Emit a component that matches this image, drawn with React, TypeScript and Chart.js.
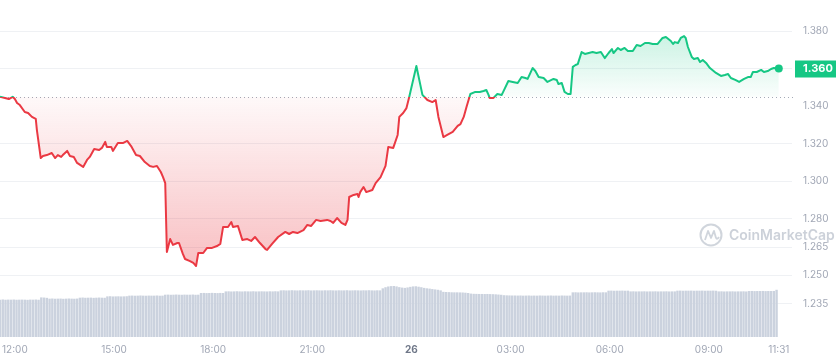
import React, { useEffect, useRef } from "react";
import { Chart, registerables } from "chart.js";

Chart.register(...registerables);

// Price series: minutes after 12:00 (25th) and price in USD
const TIME_MIN = [
  -27, -18, -11, -4, 0, 4, 9, 18, 24, 31, 38, 40, 47, 51, 58, 67, 73, 78, 84, 87,
  95, 100, 107, 113, 124, 131, 136, 144, 153, 158, 164, 167, 175, 178, 187, 196, 204, 211, 215, 220,
  227, 236, 245, 251, 258, 265, 269, 273, 276, 282, 287, 295, 298, 305, 309, 318, 324, 329, 333, 342,
  349, 358, 367, 373, 378, 387, 393, 396, 405, 413, 422, 429, 436, 445, 455, 458, 467, 478, 491, 498,
  505, 513, 524, 531, 538, 547, 555, 567, 573, 578, 585, 593, 600, 604, 607, 615, 622, 624, 627, 633,
  638, 649, 655, 664, 673, 678, 687, 695, 698, 705, 711, 716, 729, 740, 749, 758, 764, 769, 778, 785,
  795, 804, 809, 815, 820, 827, 836, 844, 851, 856, 860, 862, 869, 876, 884, 889, 896, 904, 913, 920,
  927, 931, 940, 945, 951, 960, 967, 978, 984, 987, 993, 998, 1004, 1009, 1013, 1018, 1022, 1029, 1035, 1042,
  1049, 1056, 1064, 1071, 1078, 1084, 1087, 1095, 1100, 1107, 1113, 1122, 1129, 1136, 1144, 1151, 1158, 1167, 1176, 1182,
  1191, 1195, 1198, 1204, 1209, 1215, 1218, 1222, 1229, 1233, 1240, 1244, 1249, 1255, 1262, 1273, 1282, 1289, 1295, 1300,
  1309, 1315, 1324, 1331, 1336, 1340, 1347, 1355, 1360, 1367, 1373, 1378, 1387,
];

const PRICE = [
  1.3450, 1.3444, 1.3438, 1.3450, 1.3438, 1.3417, 1.3406, 1.3369, 1.3364, 1.3343, 1.3332, 1.3273, 1.3124, 1.3135, 1.3140, 1.3151, 1.3124, 1.3140, 1.3130, 1.3140,
  1.3162, 1.3135, 1.3130, 1.3098, 1.3077, 1.3114, 1.3130, 1.3172, 1.3167, 1.3178, 1.3210, 1.3183, 1.3183, 1.3162, 1.3204, 1.3204, 1.3215, 1.3188, 1.3167, 1.3140,
  1.3135, 1.3103, 1.3082, 1.3077, 1.3082, 1.3050, 1.3023, 1.2991, 1.2624, 1.2693, 1.2662, 1.2672, 1.2672, 1.2614, 1.2587, 1.2576, 1.2566, 1.2550, 1.2619, 1.2619,
  1.2646, 1.2646, 1.2656, 1.2667, 1.2757, 1.2757, 1.2784, 1.2757, 1.2763, 1.2688, 1.2693, 1.2683, 1.2704, 1.2672, 1.2640, 1.2635, 1.2667, 1.2704, 1.2731, 1.2720,
  1.2731, 1.2725, 1.2741, 1.2768, 1.2763, 1.2795, 1.2789, 1.2795, 1.2789, 1.2779, 1.2805, 1.2779, 1.2768, 1.2795, 1.2917, 1.2928, 1.2933, 1.2917, 1.2943, 1.2970,
  1.2943, 1.2954, 1.2991, 1.3023, 1.3082, 1.3183, 1.3178, 1.3247, 1.3343, 1.3364, 1.3390, 1.3449, 1.3614, 1.3460, 1.3433, 1.3422, 1.3433, 1.3343, 1.3236, 1.3247,
  1.3263, 1.3295, 1.3305, 1.3343, 1.3396, 1.3465, 1.3476, 1.3476, 1.3481, 1.3486, 1.3460, 1.3444, 1.3444, 1.3465, 1.3460, 1.3491, 1.3534, 1.3529, 1.3523, 1.3555,
  1.3550, 1.3545, 1.3603, 1.3587, 1.3555, 1.3550, 1.3529, 1.3545, 1.3539, 1.3518, 1.3523, 1.3476, 1.3465, 1.3465, 1.3609, 1.3619, 1.3624, 1.3688, 1.3678, 1.3683,
  1.3688, 1.3683, 1.3688, 1.3656, 1.3683, 1.3704, 1.3683, 1.3710, 1.3699, 1.3710, 1.3694, 1.3694, 1.3726, 1.3720, 1.3736, 1.3736, 1.3731, 1.3731, 1.3763, 1.3768,
  1.3747, 1.3731, 1.3741, 1.3736, 1.3763, 1.3773, 1.3763, 1.3715, 1.3662, 1.3651, 1.3656, 1.3635, 1.3646, 1.3630, 1.3603, 1.3577, 1.3561, 1.3566, 1.3571, 1.3550,
  1.3539, 1.3529, 1.3545, 1.3555, 1.3555, 1.3582, 1.3582, 1.3593, 1.3582, 1.3587, 1.3598, 1.3603, 1.3600,
];

// Volume bars (5-minute buckets, arbitrary units in millions)
const VOLUME_START_MIN = -27;
const VOLUME_STEP_MIN = 5;
const VOLUME = [
  50.5, 50.8, 50.4, 50.6, 50.5, 50.7, 50.4, 50.5, 50.6, 50.5, 50.3, 50.6, 50.5, 50.7, 50.4,
  53.6, 53.4, 53.0,
  51.9, 52.1, 51.8, 51.9, 52.0, 51.7, 51.9, 52.1, 51.9, 51.8, 52.0,
  53.2, 53.4, 53.1, 53.2, 53.3, 53.0, 53.2, 53.4, 53.2, 53.1,
  55.0, 55.2, 54.9, 55.0, 55.1, 54.9, 55.0, 55.2,
  56.0, 56.1, 55.9, 56.0, 56.2, 56.0, 55.9, 56.1, 56.0, 56.0, 56.2, 55.9, 56.0,
  57.3, 57.4, 57.2, 57.3, 57.5, 57.3, 57.2, 57.4, 57.3, 57.3, 57.5, 57.2, 57.3,
  59.6, 59.7, 59.5, 59.6, 59.8, 59.6, 59.5, 59.7, 59.6,
  61.8, 61.9, 61.7, 61.8, 62.0, 61.8, 61.7, 61.9, 61.8, 61.8, 62.0, 61.7, 61.8, 61.9, 61.8, 61.7, 61.9, 61.8, 62.0, 61.8,
  63.2, 63.3, 63.1, 63.2, 63.4, 63.2, 63.1, 63.3, 63.2, 63.2, 63.4, 63.1, 63.2, 63.3, 63.2, 63.1, 63.3, 63.2, 63.4, 63.2,
  63.1, 63.3, 63.2, 63.2, 63.4, 63.1, 63.2, 63.3, 63.2, 63.1, 63.3, 63.2, 63.4, 63.2, 63.1, 63.3, 63.2,
  66.0, 67.5, 68.5, 69.0, 69.2, 68.6, 67.6, 67.0, 66.6, 67.2, 68.0, 68.6, 68.8, 68.2, 67.5, 66.6, 66.0, 65.6,
  65.0, 64.5, 64.0, 63.2,
  61.2, 61.0, 60.8, 60.6, 60.5, 60.5, 60.4, 60.3, 60.0, 59.6,
  58.8, 58.5, 58.4, 58.3, 58.3, 58.2, 58.3, 58.1, 58.0, 57.8, 57.5, 57.2,
  56.6, 56.4, 56.3, 56.2, 56.2, 56.1, 56.2, 56.0, 56.1, 56.2, 56.0, 56.1, 56.0, 56.2, 56.1, 56.0, 56.1, 56.2, 56.0, 56.1,
  56.0, 56.2, 56.1, 56.0, 56.1,
  60.5, 60.6, 60.4, 60.5, 60.5, 60.6, 60.4, 60.5, 60.6, 60.5, 60.4, 60.6, 60.5,
  62.8, 62.9, 62.7, 62.8, 62.8, 62.9, 62.7, 62.8,
  61.8, 61.9, 61.7, 61.8, 61.8, 61.9, 61.7, 61.8, 61.8, 61.9, 61.7, 61.8, 61.8, 61.9, 61.7, 61.8, 61.8,
  62.8, 62.9, 62.7, 62.8, 62.8, 62.9, 62.7, 62.8, 62.8, 62.9, 62.7, 62.8, 62.8, 62.9, 62.7,
  61.8, 61.9, 61.7, 61.8, 61.8, 61.9, 61.7, 61.8, 61.8, 61.9, 61.7,
  62.3, 62.4, 62.2, 62.3, 62.3, 62.4, 62.2, 62.3, 62.3, 62.4,
  64.0,
];

const X_MIN = -27;
const X_MAX = 1411;
const Y_MIN = 1.2172;
const Y_MAX = 1.3965;
const VOL_AXIS_MAX = 460;
const Y_TICKS = [1.235, 1.25, 1.265, 1.28, 1.3, 1.32, 1.34, 1.36, 1.38];
const HIDDEN_GRID_TICK = 1.34;
const X_TICK_MIN = [0, 180, 360, 540, 720, 900, 1080, 1260, 1387];
const X_TICK_LABELS = ["12:00", "15:00", "18:00", "21:00", "26", "03:00", "06:00", "09:00", "11:31"];
const BOLD_X_LABEL = "26";
const LAST_PRICE_LABEL = "1.360";
const WATERMARK = "CoinMarketCap";

const GREEN = "#16c784";
const RED = "#ea3943";
const FONT_FAMILY = "Inter, 'Noto Sans', sans-serif";

function lineGradient(chart: any) {
  const { ctx, chartArea, scales } = chart;
  if (!chartArea || !scales.y) return RED;
  const base = scales.y.getPixelForValue(PRICE[0]);
  const g = ctx.createLinearGradient(0, chartArea.top, 0, chartArea.bottom);
  const f = Math.min(1, Math.max(0, (base - chartArea.top) / (chartArea.bottom - chartArea.top)));
  g.addColorStop(0, GREEN);
  g.addColorStop(f, GREEN);
  g.addColorStop(f, RED);
  g.addColorStop(1, RED);
  return g;
}

function fillGradient(chart: any) {
  const { ctx, chartArea, scales } = chart;
  if (!chartArea || !scales.y) return "rgba(234,57,67,0.15)";
  const top = scales.y.getPixelForValue(Math.max(...PRICE));
  const bottom = scales.y.getPixelForValue(Math.min(...PRICE));
  const base = scales.y.getPixelForValue(PRICE[0]);
  const g = ctx.createLinearGradient(0, top, 0, bottom);
  const f = Math.min(1, Math.max(0, (base - top) / (bottom - top)));
  g.addColorStop(0, "rgba(22,199,132,0.22)");
  g.addColorStop(f, "rgba(22,199,132,0.02)");
  g.addColorStop(f, "rgba(234,57,67,0.03)");
  g.addColorStop(1, "rgba(234,57,67,0.32)");
  return g;
}

const overlayPlugin = {
  id: "cmcOverlay",
  beforeDatasetsDraw(chart: any) {
    const { ctx, chartArea, scales } = chart;
    const y = Math.round(scales.y.getPixelForValue(PRICE[0])) + 0.5;
    ctx.save();
    ctx.setLineDash([1, 3]);
    ctx.strokeStyle = "#a4aab6";
    ctx.lineWidth = 1;
    ctx.beginPath();
    ctx.moveTo(chartArea.left, y);
    ctx.lineTo(chartArea.right + 2, y);
    ctx.stroke();
    ctx.restore();
  },
  afterDraw(chart: any) {
    const { ctx, chartArea, scales, width } = chart;
    // watermark
    ctx.save();
    const wy = scales.y.getPixelForValue(1.2715);
    const lx = chartArea.right - 81;
    ctx.strokeStyle = "rgba(170,178,192,0.55)";
    ctx.lineWidth = 2;
    ctx.beginPath();
    ctx.arc(lx, wy, 10.5, 0, Math.PI * 2);
    ctx.stroke();
    ctx.lineWidth = 1.8;
    ctx.lineJoin = "round";
    ctx.beginPath();
    ctx.moveTo(lx - 6, wy + 5);
    ctx.lineTo(lx - 3, wy - 4);
    ctx.lineTo(lx, wy + 3);
    ctx.lineTo(lx + 3, wy - 4);
    ctx.lineTo(lx + 5, wy + 3);
    ctx.quadraticCurveTo(lx + 6, wy + 5, lx + 8, wy + 2);
    ctx.stroke();
    ctx.fillStyle = "rgba(170,178,192,0.6)";
    ctx.font = `600 14px ${FONT_FAMILY}`;
    ctx.textAlign = "left";
    ctx.textBaseline = "middle";
    ctx.fillText(WATERMARK, lx + 18, wy + 1);
    ctx.restore();

    // current price badge
    const py = scales.y.getPixelForValue(PRICE[PRICE.length - 1]);
    ctx.save();
    ctx.fillStyle = GREEN;
    const bx = chartArea.right + 3;
    ctx.beginPath();
    ctx.rect(bx, Math.round(py) - 8.5, width - bx, 17);
    ctx.fill();
    ctx.fillStyle = "#ffffff";
    ctx.font = `bold 11px ${FONT_FAMILY}`;
    ctx.textAlign = "left";
    ctx.textBaseline = "middle";
    ctx.fillText(LAST_PRICE_LABEL, chartArea.right + 11, py);
    ctx.restore();
  },
};

export default function App() {
  const canvasRef = useRef<HTMLCanvasElement | null>(null);

  useEffect(() => {
    const canvas = canvasRef.current;
    if (!canvas) return;
    const priceData = TIME_MIN.map((t, i) => ({ x: t, y: PRICE[i] }));
    const volumeData = VOLUME.map((v, i) => ({ x: VOLUME_START_MIN + i * VOLUME_STEP_MIN, y: v }));
    const lastIndex = PRICE.length - 1;

    const chart = new Chart(canvas, {
      type: "line",
      data: {
        datasets: [
          {
            type: "line",
            data: priceData,
            xAxisID: "x",
            yAxisID: "y",
            borderWidth: 2,
            tension: 0,
            borderJoinStyle: "round",
            borderColor: (c: any) => lineGradient(c.chart),
            backgroundColor: (c: any) => fillGradient(c.chart),
            fill: { target: { value: PRICE[0] } },
            pointRadius: (c: any) => (c.dataIndex === lastIndex ? 4 : 0),
            pointBackgroundColor: GREEN,
            pointBorderColor: GREEN,
            pointBorderWidth: 0,
            pointHoverRadius: 0,
            order: 0,
          } as any,
          {
            type: "bar",
            data: volumeData,
            xAxisID: "x",
            yAxisID: "yv",
            backgroundColor: "#cbd2de",
            barThickness: 1.75,
            order: 1,
          } as any,
        ],
      },
      options: {
        responsive: false,
        maintainAspectRatio: false,
        animation: false,
        events: [],
        layout: { padding: 0, autoPadding: false },
        plugins: {
          legend: { display: false },
          tooltip: { enabled: false },
        },
        scales: {
          x: {
            type: "linear",
            min: X_MIN,
            max: X_MAX,
            offset: false,
            grid: { display: false, drawTicks: false },
            border: { display: false },
            afterBuildTicks: (s: any) => {
              s.ticks = X_TICK_MIN.map((v) => ({ value: v }));
            },
            afterFit: (s: any) => {
              s.height = 22;
              s.paddingLeft = 0;
              s.paddingRight = 0;
              s.paddingTop = 0;
              s.paddingBottom = 0;
            },
            ticks: {
              autoSkip: false,
              maxRotation: 0,
              minRotation: 0,
              padding: 7,
              color: (c: any) => (c.tick && c.tick.label === BOLD_X_LABEL ? "#6f7788" : "#a1a7b5"),
              font: (c: any) => ({
                family: FONT_FAMILY,
                size: 10,
                weight: c.tick && c.tick.label === BOLD_X_LABEL ? "bold" : "normal",
              }),
              callback: (_v: any, i: number) => X_TICK_LABELS[i],
            },
          },
          y: {
            type: "linear",
            position: "right",
            min: Y_MIN,
            max: Y_MAX,
            afterBuildTicks: (s: any) => {
              s.ticks = Y_TICKS.map((v) => ({ value: v }));
            },
            afterFit: (s: any) => {
              s.width = 44;
              s.paddingTop = 0;
              s.paddingBottom = 0;
              s.paddingLeft = 0;
              s.paddingRight = 0;
            },
            grid: {
              drawTicks: false,
              lineWidth: 1,
              color: (c: any) =>
                c.tick && Math.abs(c.tick.value - HIDDEN_GRID_TICK) < 1e-6 ? "rgba(0,0,0,0)" : "#eff1f4",
            },
            border: { display: false },
            ticks: {
              padding: 11,
              color: "#a1a7b5",
              font: { family: FONT_FAMILY, size: 10 },
              callback: (v: any) => Number(v).toFixed(3),
            },
          },
          yv: {
            type: "linear",
            display: false,
            min: 0,
            max: VOL_AXIS_MAX,
          },
        },
      } as any,
      plugins: [overlayPlugin],
    });

    return () => chart.destroy();
  }, []);

  return (
    <div style={{ position: "absolute", left: 0, top: 0, width: 836, height: 359, background: "#ffffff" }}>
      <canvas ref={canvasRef} width={836} height={359} style={{ display: "block", width: 836, height: 359 }} />
    </div>
  );
}
